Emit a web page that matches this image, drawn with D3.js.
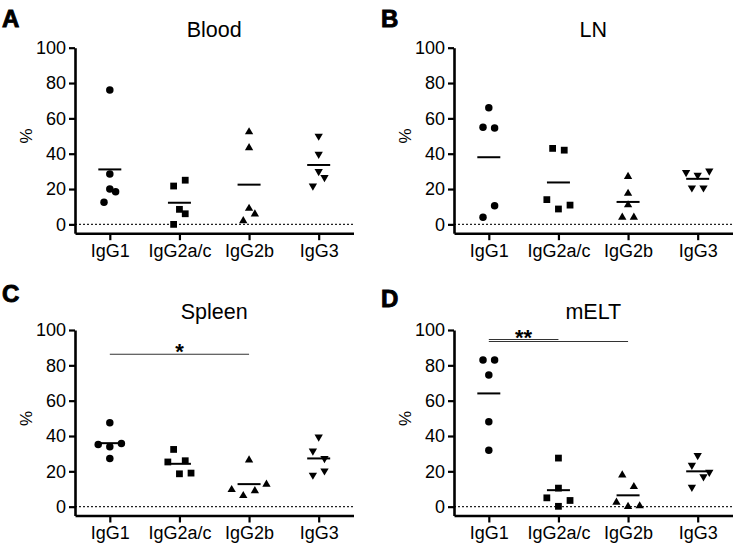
<!DOCTYPE html>
<html>
<head>
<meta charset="utf-8">
<script src="https://cdn.jsdelivr.net/npm/d3@7/dist/d3.min.js"></script>
<style>
  html, body { margin: 0; padding: 0; background: #fff; }
  svg { display: block; }
  text { font-family: "Liberation Sans", Arial, Helvetica, sans-serif; fill: #000; }
</style>
</head>
<body>
<svg id="chart" width="742" height="557"></svg>
<script>
// ---------------- DATA ----------------
const categories = ["IgG1", "IgG2a/c", "IgG2b", "IgG3"];
const yTicks = [0, 20, 40, 60, 80, 100];
const panelLetters = ["A", "B", "C", "D"];
const panelTitles = ["Blood", "LN", "Spleen", "mELT"];
const yLabel = "%";

// values per category (IgG1, IgG2a/c, IgG2b, IgG3), 5 animals each
const bloodValues = [
  [76, 28.5, 20, 18.5, 12.5],
  [25, 21.7, 8.5, 6, 0],
  [52.3, 43.3, 9, 5.8, 2],
  [50, 39.7, 30, 26.6, 21.8]
];
const lnValues = [
  [66, 55, 54.5, 10.5, 4],
  [43, 42, 14, 8.7, 10.9],
  [27, 17.5, 11, 4, 4],
  [29.4, 27.9, 30.2, 20.7, 20.7]
];
const spleenValues = [
  [47.5, 35.2, 33.9, 35.8, 27.3],
  [32.4, 25.3, 26, 18.6, 19],
  [26.4, 9.6, 6.2, 9, 12.6],
  [39.5, 31.5, 27.3, 17.9, 20.3]
];
const meltValues = [
  [83, 83, 74.5, 48, 32],
  [27.5, 10.5, 5, 3.5, 0.2],
  [17.9, 11.3, 2.5, 0, 0.4],
  [29, 23.5, 17, 19.5, 11]
];

// horizontal spread slot of each point (scatter column layout)
const bloodSlots  = [[0,0,0,1,-1],[1,-1,0,1,-1],[0,0,0,1,-1],[0,0,0,1,-1]];
const lnSlots     = [[0,-1,1,1,-1],[-1,1,-2,0,2],[0,0,0,-1,1],[-2,0,2,-1,1]];
const spleenSlots = [[0,-2,0,2,0],[-1,-2,1,0,2],[0,-3,-1,1,3],[0,-1,1,-1,1]];
const meltSlots   = [[-1,1,0,0,0],[0,0,-2,2,0],[-1,1,-2,0,2],[0,-1,1,2,-1]];

// significance bars: [from category, to category, height %, label]
const spleenSig = [["IgG1", "IgG2b", 86.3, "*"]];
const meltSig = [["IgG1", "IgG2a/c", 94.6, "**"], ["IgG1", "IgG2b", 93.5, null]];

// ---------------- LAYOUT ----------------
const panels = [
  { ox: 0,   oy: 0,     values: bloodValues,  slots: bloodSlots,  sig: [],        letterY: 27 },
  { ox: 379, oy: 0,     values: lnValues,     slots: lnSlots,     sig: [],        letterY: 27 },
  { ox: 0,   oy: 282.3, values: spleenValues, slots: spleenSlots, sig: spleenSig, letterY: 19.5 },
  { ox: 379, oy: 282.3, values: meltValues,   slots: meltSlots,   sig: meltSig,   letterY: 24.5 }
];

const axisLeft = 75, axisRight = 353.5;
const yTop = 47.7, yBottom = 233.2; // y(100), y(-5)
const slotStep = 5.8;

const symbols = [d3.symbolCircle, d3.symbolSquare, d3.symbolTriangle, d3.symbolTriangle];
const symbolSizes = [44, 46, 30, 30];
const symbolRot = [0, 0, 0, 180];

const svg = d3.select("#chart");

panels.forEach((p, pi) => {
  const g = svg.append("g").attr("transform", `translate(${p.ox},${p.oy})`);

  const x = d3.scalePoint().domain(categories).range([axisLeft, axisRight]).padding(0.5);
  const y = d3.scaleLinear().domain([-5, 100]).range([yBottom, yTop]);

  // panel letter
  g.append("text")
    .attr("x", 2).attr("y", p.letterY)
    .style("font-size", "24px").style("font-weight", "bold")
    .style("stroke", "#000").style("stroke-width", 0.9)
    .text(panelLetters[pi]);

  // title
  g.append("text")
    .attr("x", (axisLeft + axisRight) / 2).attr("y", 37)
    .attr("text-anchor", "middle")
    .style("font-size", "21.5px")
    .text(panelTitles[pi]);

  // y label
  g.append("text")
    .attr("transform", `translate(32,${y(50)}) rotate(-90)`)
    .attr("text-anchor", "middle")
    .style("font-size", "17px")
    .text(yLabel);

  // zero dotted line
  g.append("line")
    .attr("x1", axisLeft).attr("x2", axisRight)
    .attr("y1", y(0)).attr("y2", y(0))
    .attr("stroke", "#222").attr("stroke-width", 1.2)
    .attr("stroke-dasharray", "2,2");

  // y axis
  const ya = g.append("g").attr("transform", `translate(${axisLeft},0)`)
    .call(d3.axisLeft(y).tickValues(yTicks).tickSize(6).tickPadding(3).tickSizeOuter(0));
  ya.select(".domain").attr("stroke-width", 2.6).attr("stroke", "#000");
  ya.selectAll(".tick line").attr("stroke-width", 2.2).attr("stroke", "#000");
  ya.selectAll(".tick text").style("font-size", "18px").attr("fill", "#000")
    .style("font-family", '"Liberation Sans", Arial, sans-serif');

  // x axis
  const xa = g.append("g").attr("transform", `translate(0,${yBottom})`)
    .call(d3.axisBottom(x).tickSize(7).tickPadding(4).tickSizeOuter(0));
  xa.select(".domain").attr("stroke-width", 2.6).attr("stroke", "#000");
  xa.selectAll(".tick line").attr("stroke-width", 2.2).attr("stroke", "#000");
  xa.selectAll(".tick text").style("font-size", "18px").attr("fill", "#000")
    .style("font-family", '"Liberation Sans", Arial, sans-serif');

  // points + mean lines
  categories.forEach((cat, ci) => {
    const vals = p.values[ci];
    const slots = p.slots[ci];
    const sym = d3.symbol().type(symbols[ci]).size(symbolSizes[ci]);
    g.append("g").selectAll("path")
      .data(vals.map((v, i) => ({ v, s: slots[i] })))
      .join("path")
      .attr("d", sym)
      .attr("transform", d => `translate(${x(cat) + d.s * slotStep},${y(d.v)}) rotate(${symbolRot[ci]})`)
      .attr("fill", "#000");

    const m = d3.mean(vals);
    g.append("line")
      .attr("x1", x(cat) - 11.5).attr("x2", x(cat) + 11.5)
      .attr("y1", y(m)).attr("y2", y(m))
      .attr("stroke", "#000").attr("stroke-width", 2);
  });

  // significance bars
  p.sig.forEach(s => {
    const [a, b, h, lab] = s;
    g.append("line")
      .attr("x1", x(a)).attr("x2", x(b))
      .attr("y1", y(h)).attr("y2", y(h))
      .attr("stroke", "#333").attr("stroke-width", 1.1);
    if (lab) {
      g.append("text")
        .attr("x", (x(a) + x(b)) / 2).attr("y", y(h) + 5)
        .attr("text-anchor", "middle")
        .style("font-size", "22px").style("font-weight", "bold")
        .text(lab);
    }
  });
});
</script>
</body>
</html>
